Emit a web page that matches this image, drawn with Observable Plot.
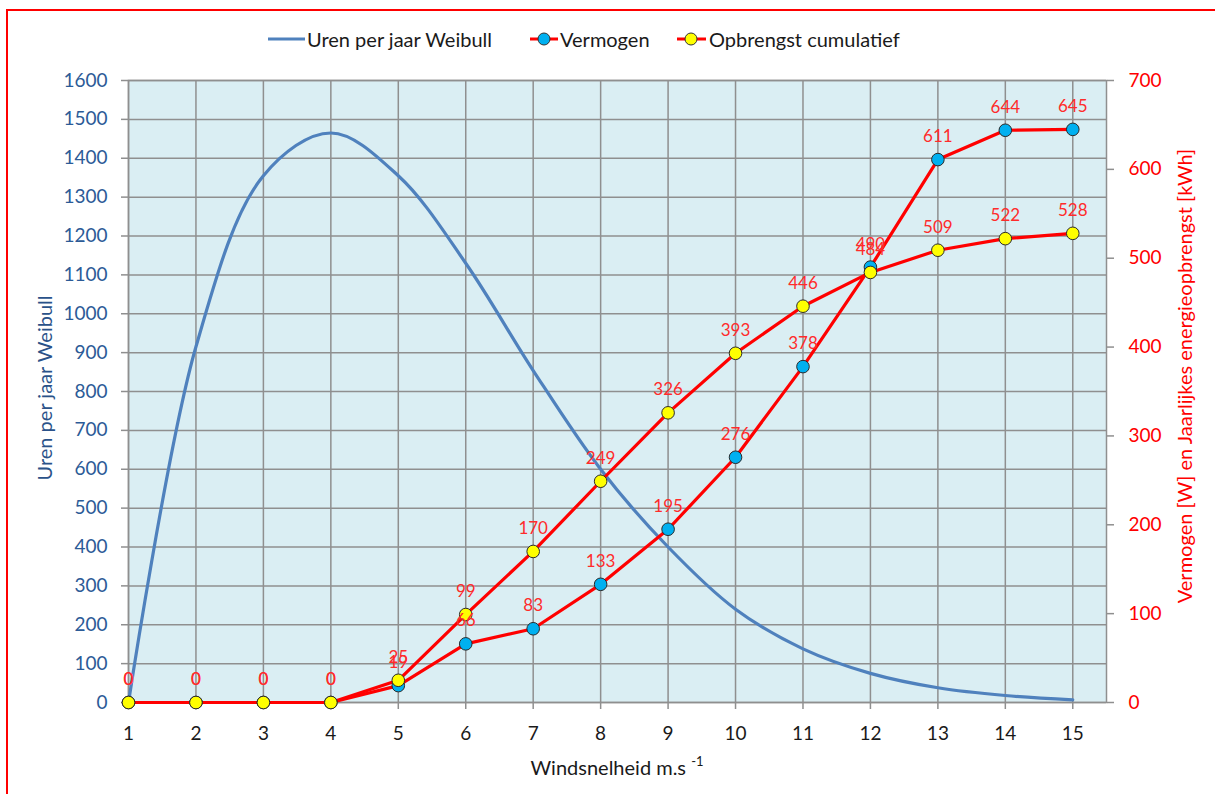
<!DOCTYPE html>
<html>
<head>
<meta charset="utf-8">
<script src="https://cdn.jsdelivr.net/npm/d3@7"></script>
<script src="https://cdn.jsdelivr.net/npm/@observablehq/plot@0.6"></script>
<style>
  body { margin: 0; background: #fff; font-family: Lato, "Open Sans", sans-serif; }
  #wrap { position: relative; width: 1215px; height: 794px; overflow: hidden; background: #fff; }
  #border { position: absolute; left: 6px; top: 9px; width: 1230px; height: 820px; border: 2px solid #ff0000; box-sizing: border-box; pointer-events: none; }
  #chart { position: absolute; left: 0; top: 0; }
  .leg { position: absolute; top: 27px; height: 24px; line-height: 24px; font-size: 20px; color: #1a1a1a; white-space: nowrap; }
  .legsw { position: absolute; top: 27px; }
  .ytitle { position: absolute; white-space: nowrap; font-size: 20px; transform: translate(-50%, -50%) rotate(-90deg); }
  #xtitle { position: absolute; white-space: nowrap; font-size: 20px; color: #1a1a1a; transform: translate(-50%, -50%); }
  #xtitle sup { font-size: 13px; position: relative; top: -2px; }
</style>
</head>
<body>
<div id="wrap">
  <div id="chart"></div>
  <svg class="legsw" style="left:266px" width="42" height="24"><line x1="2" y1="12" x2="39" y2="12" stroke="#4F81BD" stroke-width="3"/></svg>
  <div class="leg" style="left:307px">Uren per jaar Weibull</div>
  <svg class="legsw" style="left:528px" width="34" height="24"><line x1="2" y1="12" x2="30" y2="12" stroke="#ff0000" stroke-width="3"/><circle cx="16" cy="12" r="6" fill="#00B0F0" stroke="#333" stroke-width="1"/></svg>
  <div class="leg" style="left:560px">Vermogen</div>
  <svg class="legsw" style="left:675px" width="34" height="24"><line x1="2" y1="12" x2="31" y2="12" stroke="#ff0000" stroke-width="3"/><circle cx="16" cy="12" r="6" fill="#FFFF00" stroke="#333" stroke-width="1"/></svg>
  <div class="leg" style="left:709px">Opbrengst cumulatief</div>
  <div class="ytitle" style="left:44px; top:388px; color:#2a5289;">Uren per jaar Weibull</div>
  <div class="ytitle" style="left:1184px; top:376px; color:#ff0000;">Vermogen [W] en Jaarlijkes energieopbrengst [kWh]</div>
  <div id="xtitle" style="left:617px; top:767px;">Windsnelheid m.s <sup>-1</sup></div>
  <div id="border"></div>
</div>
<script>
// ---- data ----
const windspeed = [1, 2, 3, 4, 5, 6, 7, 8, 9, 10, 11, 12, 13, 14, 15];
const weibullHours = [0, 915, 1355, 1465, 1355, 1130, 854, 600, 400, 240, 138, 75, 38, 18, 7];
const vermogen = [0, 0, 0, 0, 19, 66, 83, 133, 195, 276, 378, 490, 611, 644, 645];
const opbrengst = [0, 0, 0, 0, 25, 99, 170, 249, 326, 393, 446, 484, 509, 522, 528];
const leftTicks = [0, 100, 200, 300, 400, 500, 600, 700, 800, 900, 1000, 1100, 1200, 1300, 1400, 1500, 1600];
const rightTicks = [0, 100, 200, 300, 400, 500, 600, 700];

// secondary axis mapped onto primary scale
const leftMax = 1600, rightMax = 700;
const k = leftMax / rightMax;

const weibullData = windspeed.map((x, i) => ({x, y: weibullHours[i]}));
const vermData = windspeed.map((x, i) => ({x, v: vermogen[i], y: vermogen[i] * k}));
const opbrData = windspeed.map((x, i) => ({x, v: opbrengst[i], y: opbrengst[i] * k}));

const gridColor = "#8f8f8f";
const labelColor = "#ff2b2b";

const chart = Plot.plot({
  width: 1215,
  height: 794,
  marginLeft: 128,
  marginRight: 109,
  marginTop: 80,
  marginBottom: 92,
  style: { fontFamily: "Lato, 'Open Sans', sans-serif", background: "transparent", overflow: "visible" },
  x: { domain: [1, 15.5] },
  y: { domain: [0, leftMax] },
  marks: [
    Plot.frame({ fill: "#DAEEF3" }),
    Plot.gridY(leftTicks, { stroke: gridColor, strokeOpacity: 1, strokeWidth: 1.5 }),
    Plot.gridX(windspeed, { stroke: gridColor, strokeOpacity: 1, strokeWidth: 1.5 }),
    Plot.frame({ stroke: gridColor, strokeWidth: 1.5 }),
    Plot.axisY({ ticks: leftTicks, tickFormat: d => String(d), tickSize: 7, tickPadding: 14, fontSize: 19, fill: "#2c5b97", stroke: gridColor, strokeWidth: 1.5, label: null }),
    Plot.axisY({ anchor: "right", ticks: rightTicks.map(v => v * k), tickFormat: d => String(Math.round(d / k)), tickSize: 7, tickPadding: 15, fontSize: 19, fill: "#ff0000", stroke: gridColor, strokeWidth: 1.5, label: null }),
    Plot.axisX({ ticks: windspeed, tickFormat: d => String(d), tickSize: 7, tickPadding: 17, fontSize: 19, fill: "#1a1a1a", stroke: gridColor, strokeWidth: 1.5, label: null }),
    Plot.line(weibullData, { x: "x", y: "y", stroke: "#4F81BD", strokeWidth: 3.2, curve: "catmull-rom" }),
    Plot.line(vermData, { x: "x", y: "y", stroke: "#ff0000", strokeWidth: 3.2 }),
    Plot.line(opbrData, { x: "x", y: "y", stroke: "#ff0000", strokeWidth: 3.2 }),
    Plot.dot(vermData, { x: "x", y: "y", r: 6.3, fill: "#00B0F0", stroke: "#2a2a2a", strokeWidth: 1 }),
    Plot.dot(opbrData, { x: "x", y: "y", r: 6.3, fill: "#FFFF00", stroke: "#2a2a2a", strokeWidth: 1 }),
    Plot.text(vermData, { x: "x", y: "y", text: d => String(d.v), dy: -23, fill: labelColor, fontSize: 17 }),
    Plot.text(opbrData, { x: "x", y: "y", text: d => String(d.v), dy: -23, fill: labelColor, fontSize: 17 })
  ]
});
document.getElementById("chart").appendChild(chart);
</script>
</body>
</html>
